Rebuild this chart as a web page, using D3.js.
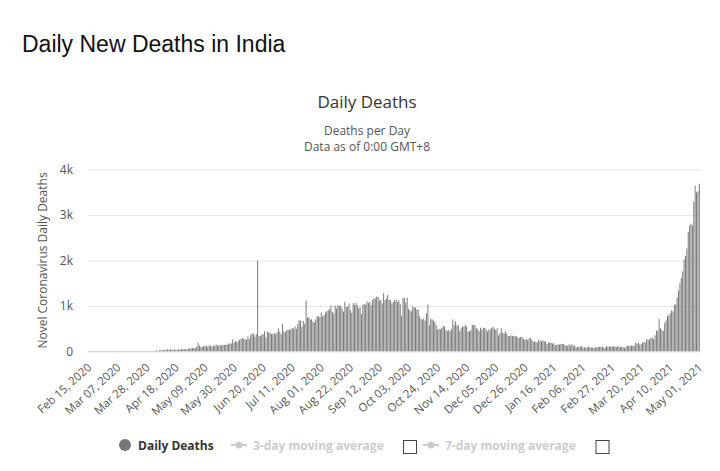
<!DOCTYPE html>
<html>
<head>
<meta charset="utf-8">
<script src="https://cdn.jsdelivr.net/npm/d3@7"></script>
<style>
	body { margin: 0; background: #fff; }
	text { font-family: "Open Sans", "Noto Sans", sans-serif; }
</style>
</head>
<body>
<div id="chart"></div>
<script>
// daily deaths, one array per month
const feb2020 = [0, 0, 0, 0, 0, 0, 0, 0, 0, 0, 0, 0, 0, 0, 0]; // from Feb 15
const mar2020 = [0, 0, 0, 0, 0, 0, 0, 0, 0, 0, 0, 1, 1, 0, 0, 0, 1, 0, 1, 1, 1, 3, 2, 1, 2, 3, 4, 5, 4, 6, 5];
const apr2020 = [4, 12, 12, 24, 13, 32, 26, 31, 34, 35, 40, 51, 34, 52, 39, 37, 45, 33, 31, 58, 37, 52, 51, 57, 47, 49, 63, 68, 70, 73];
const may2020 = [77, 73, 103, 195, 128, 95, 103, 117, 120, 128, 97, 137, 125, 104, 133, 120, 157, 134, 132, 140, 134, 148, 142, 154, 146, 175, 172, 178, 265, 193, 230];
const jun2020 = [204, 230, 260, 273, 294, 287, 266, 261, 331, 279, 357, 396, 386, 325, 380, 2003, 343, 336, 375, 380, 445, 306, 440, 418, 410, 384, 380, 410, 380, 418];
const jul2020 = [507, 434, 379, 613, 442, 425, 467, 482, 475, 487, 519, 500, 553, 500, 606, 687, 675, 543, 671, 613, 1120, 740, 757, 705, 708, 654, 637, 708, 779, 768, 764];
const aug2020 = [853, 771, 803, 857, 886, 904, 933, 1007, 871, 834, 1007, 942, 1023, 996, 1007, 944, 876, 1092, 977, 983, 1057, 912, 848, 1063, 1023, 1065, 1021, 948, 971, 823, 1022];
const sep2020 = [1045, 1026, 1096, 1066, 1089, 1016, 1132, 1172, 1168, 1209, 1200, 1114, 1135, 1054, 1283, 1132, 1174, 1247, 1130, 1133, 1053, 1085, 1129, 1141, 1089, 1124, 1039, 776, 1179, 1181];
const oct2020 = [1069, 1181, 940, 903, 884, 986, 971, 963, 924, 918, 770, 716, 702, 730, 680, 837, 1033, 579, 717, 706, 680, 650, 578, 480, 500, 488, 517, 563, 551, 470, 449];
const nov2020 = [470, 449, 490, 704, 577, 670, 576, 577, 449, 512, 550, 547, 584, 548, 435, 449, 474, 584, 585, 576, 511, 491, 447, 524, 480, 518, 520, 496, 443, 482];
const dec2020 = [482, 521, 540, 497, 476, 512, 355, 402, 512, 412, 402, 442, 391, 340, 338, 355, 347, 338, 341, 333, 302, 301, 325, 314, 278, 251, 279, 251, 286, 299, 251];
const jan2021 = [224, 217, 214, 201, 264, 234, 226, 246, 228, 214, 163, 202, 201, 191, 175, 181, 145, 137, 162, 151, 163, 163, 169, 138, 131, 123, 162, 127, 163, 137, 127];
const feb2021 = [94, 94, 107, 108, 120, 84, 95, 78, 94, 107, 83, 94, 87, 76, 90, 94, 104, 102, 107, 101, 84, 78, 117, 104, 113, 108, 112, 113];
const mar2021 = [106, 98, 117, 109, 99, 100, 92, 77, 108, 127, 118, 131, 126, 131, 118, 188, 172, 188, 155, 159, 197, 212, 199, 275, 249, 271, 291, 312, 271, 354, 458];
const apr2021 = [460, 714, 513, 478, 446, 630, 685, 780, 795, 839, 904, 880, 1027, 1038, 1185, 1341, 1501, 1619, 1761, 2023, 2104, 2263, 2624, 2767, 2812, 2771, 3293, 3645, 3498, 3523];
const may2021 = [3689];

const dailyDeaths = [].concat(feb2020, mar2020, apr2020, may2020, jun2020, jul2020, aug2020,
	sep2020, oct2020, nov2020, dec2020, jan2021, feb2021, mar2021, apr2021, may2021);

const firstDay = new Date(2020, 1, 15);
const yTicks = [0, 1000, 2000, 3000, 4000];
const xTickEvery = 21;

const width = 720;
const height = 471;
const plot = { left: 88, right: 700, top: 169.5, bottom: 351.5 };

// day categories
const days = dailyDeaths.map((d, i) => d3.timeDay.offset(firstDay, i));
const rows = days.map((d, i) => ({ date: d, value: dailyDeaths[i] }));

const svg = d3.select('#chart')
	.append('svg')
	.attr('width', width)
	.attr('height', height);

const x = d3.scaleBand()
	.domain(days)
	.range([plot.left, plot.right])
	.paddingInner(0.3)
	.paddingOuter(0.15);

const y = d3.scaleLinear()
	.domain([0, 4000])
	.range([plot.bottom, plot.top]);

// titles
svg.append('text')
	.attr('x', 22).attr('y', 52)
	.style('font-family', '"Liberation Sans", Arial, sans-serif')
	.style('font-size', '23px')
	.attr('fill', '#111')
	.text('Daily New Deaths in India');

svg.append('text')
	.attr('x', 367).attr('y', 108)
	.attr('text-anchor', 'middle')
	.style('font-size', '17px')
	.attr('fill', '#333')
	.text('Daily Deaths');

svg.append('text')
	.attr('x', 367).attr('y', 135)
	.attr('text-anchor', 'middle')
	.style('font-size', '12px')
	.attr('fill', '#555')
	.text('Deaths per Day');

svg.append('text')
	.attr('x', 367).attr('y', 151)
	.attr('text-anchor', 'middle')
	.style('font-size', '12px')
	.attr('fill', '#555')
	.text('Data as of 0:00 GMT+8');

// y axis + grid
svg.append('g')
	.attr('class', 'y-axis')
	.attr('transform', `translate(${plot.left},0)`)
	.call(d3.axisLeft(y)
		.tickValues(yTicks)
		.tickSize(-(plot.right - plot.left))
		.tickPadding(15)
		.tickFormat(d => d === 0 ? '0' : d / 1000 + 'k'))
	.call(g => g.select('.domain').remove())
	.call(g => g.selectAll('.tick line').attr('stroke', '#e6e6e6'))
	.call(g => g.selectAll('.tick text')
		.attr('fill', '#555')
		.style('font-size', '12px')
		.style('font-family', '"Open Sans", sans-serif'));

svg.append('text')
	.attr('transform', `translate(47,${(plot.top + plot.bottom) / 2}) rotate(-90)`)
	.attr('text-anchor', 'middle')
	.style('font-size', '12px')
	.attr('fill', '#555')
	.text('Novel Coronavirus Daily Deaths');

// bars
svg.append('g')
	.attr('class', 'bars')
	.attr('fill', '#777')
	.selectAll('rect')
	.data(rows)
	.join('rect')
	.attr('x', d => x(d.date))
	.attr('y', d => y(d.value))
	.attr('width', x.bandwidth())
	.attr('height', d => y(0) - y(d.value));

// x axis line
svg.append('line')
	.attr('x1', plot.left).attr('x2', plot.right)
	.attr('y1', y(0)).attr('y2', y(0))
	.attr('stroke', '#ccd6eb');

// x axis labels
svg.append('g')
	.attr('class', 'x-axis')
	.attr('transform', `translate(0,${plot.bottom})`)
	.call(d3.axisBottom(x)
		.tickValues(days.filter((d, i) => i % xTickEvery === 0))
		.tickSize(0)
		.tickFormat(d3.timeFormat('%b %d, %Y')))
	.call(g => g.select('.domain').remove())
	.call(g => g.selectAll('.tick text')
		.attr('x', 0).attr('y', 0).attr('dy', '0.35em')
		.attr('text-anchor', 'end')
		.attr('transform', 'translate(1,14) rotate(-42)')
		.attr('fill', '#555')
		.style('font-size', '11.5px')
		.style('font-family', '"Open Sans", sans-serif'));

// legend
const legend = svg.append('g').attr('class', 'legend')
	.style('font-size', '12px').style('font-weight', 'bold');

legend.append('circle').attr('cx', 125).attr('cy', 445).attr('r', 6).attr('fill', '#777');
legend.append('text').attr('x', 138).attr('y', 449.5).attr('fill', '#333').text('Daily Deaths');

const avgItems = [
	{ label: '3-day moving average', x: 231, box: 403.5 },
	{ label: '7-day moving average', x: 423, box: 596 }
];
avgItems.forEach(it => {
	legend.append('line')
		.attr('x1', it.x).attr('x2', it.x + 16)
		.attr('y1', 445).attr('y2', 445)
		.attr('stroke', '#ccc').attr('stroke-width', 2);
	legend.append('circle').attr('cx', it.x + 8).attr('cy', 445).attr('r', 3.5).attr('fill', '#ccc');
	legend.append('text').attr('x', it.x + 22).attr('y', 449.5).attr('fill', '#ccc').text(it.label);
	legend.append('rect')
		.attr('x', it.box).attr('y', 440.5)
		.attr('width', 13).attr('height', 13)
		.attr('fill', '#fff').attr('stroke', '#444');
});
</script>
</body>
</html>
